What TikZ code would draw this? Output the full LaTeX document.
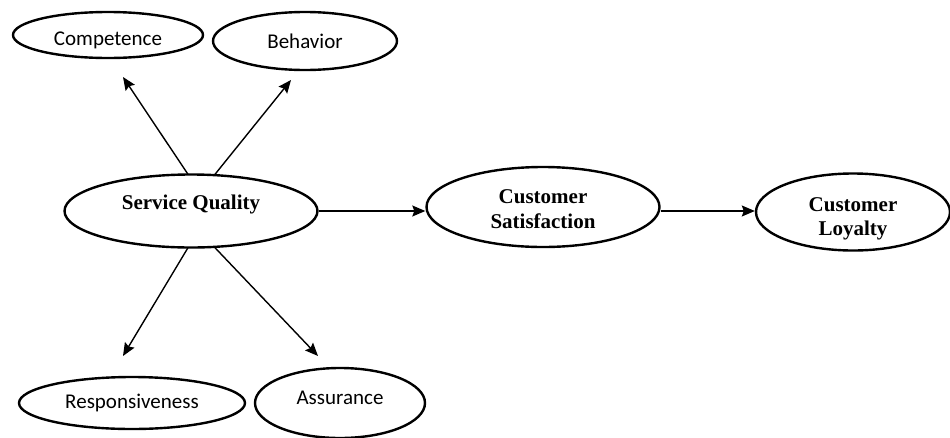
\documentclass[tikz,border=0pt]{standalone}
\usepackage{fontspec}
\setmainfont{Liberation Serif}
\newfontfamily\calib{Carlito}
\usetikzlibrary{shapes.geometric,arrows.meta,calc}
\begin{document}
\begin{tikzpicture}[x=1pt,y=-1pt,
  oval/.style={draw,ellipse,line width=2.4pt,inner sep=0pt},
  smalltxt/.style={font=\calib\fontsize{21}{22}\selectfont},
  bigtxt/.style={font=\bfseries\fontsize{21}{24.5}\selectfont,align=center},
  arr/.style={line width=1.4pt,-{Stealth[length=13pt,width=11pt,inset=2pt]}}]
\useasboundingbox (0,0) rectangle (950,437);
\node[oval,minimum width=190pt,minimum height=46pt,label={[smalltxt,yshift=-5pt]center:Competence}] (comp) at (108,35) {};
\node[oval,minimum width=184pt,minimum height=58pt,label={[smalltxt]center:Behavior}] (beh) at (305,41) {};
\node[oval,minimum width=253pt,minimum height=73pt,label={[bigtxt,yshift=7pt]center:Service Quality}] (sq) at (191,211) {};
\node[oval,minimum width=233pt,minimum height=80pt,label={[bigtxt,yshift=-2pt]center:Customer\\Satisfaction}] (cs) at (543,207) {};
\node[oval,minimum width=194pt,minimum height=77pt,label={[bigtxt,yshift=-7pt]center:Customer\\Loyalty}] (cl) at (853,212) {};
\node[oval,minimum width=226pt,minimum height=52pt,label={[smalltxt]center:Responsiveness}] (resp) at (132,403) {};
\node[oval,minimum width=170pt,minimum height=70pt,label={[smalltxt,yshift=5pt]center:Assurance}] (assu) at (340,403) {};
\coordinate (tc) at (123,77);
\coordinate (tb) at (291,80);
\coordinate (tr) at (123,356);
\coordinate (ta) at (318,356);
\draw[arr] ($(sq.north)+(-3,1)$) -- (tc);
\draw[arr] ($(sq.north)+(24,1)$) -- (tb);
\draw[arr] ($(sq.south)+(-3,-1)$) -- (tr);
\draw[arr] ($(sq.south)+(24,-1)$) -- (ta);
\draw[arr] (sq.east) -- (sq.east -| cs.west);
\draw[arr] (cs.east |- sq.east) -- (sq.east -| cl.west);
\end{tikzpicture}
\end{document}
